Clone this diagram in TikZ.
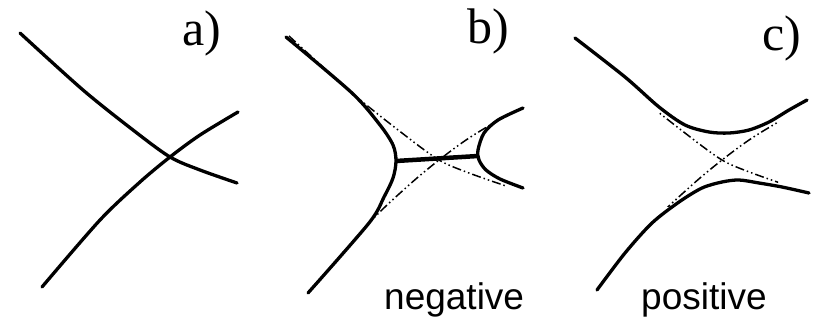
\documentclass[tikz,border=0pt]{standalone}
\usepackage{fontspec}
\setmainfont{Liberation Serif}
\newfontfamily\labelsans{Liberation Sans}
\usetikzlibrary{positioning}

\tikzset{
  branch/.style={line width=3.3pt, line cap=round, line join=round},
  asym/.style={line width=1.5pt, dash pattern=on 9pt off 3pt on 1.5pt off 3pt on 1.5pt off 3pt},
  bar/.style={line width=4.5pt},
  tag/.style={anchor=base west, inner sep=0pt, font=\fontsize{50}{50}\selectfont},
  sign/.style={anchor=base west, inner sep=0pt, font=\labelsans\fontsize{37}{37}\selectfont}
}
\newcommand{\crossA}{plot[smooth] coordinates {(20,33) (83,90) (133,130) (170,157) (200,170) (237,183)}}
\newcommand{\crossB}{plot[smooth] coordinates {(42,287) (100,220) (140,182) (170,157) (200,135) (238,112)}}

\begin{document}
\begin{tikzpicture}[x=1pt, y=-1pt]
\useasboundingbox (0,0) rectangle (813,322);
% a) plain crossing
\draw[branch] \crossA;
\draw[branch] \crossB;
\node[tag] (taga) at (182,45) {a)};
% b) negative
\draw[asym, shift={(269,3)}] \crossA;
\draw[asym, shift={(269,3)}] \crossB;
\draw[branch] plot[smooth] coordinates {(286,37) (352,93) (380,125) (393,145) (396,161) (393,178) (384,197) (369,223) (308,293)};
\draw[branch] plot[smooth] coordinates {(523,108) (498,120) (484,133) (478,150) (479,160) (486,170) (500,179) (523,188)};
\coordinate (vl) at (396,161);
\coordinate (vr) at (478,156);
\draw[bar] (vl) -- (vr);
\node[tag] (tagb) at (467,43) {b)};
\node[sign] (neg) at (384,309) {negative};
% c) positive
\begin{scope}
  \clip (658,100) rectangle (778,206);
  \draw[asym, shift={(552,3)}] \crossA;
  \draw[asym, shift={(552,3)}] \crossB;
\end{scope}
\draw[branch] plot[smooth] coordinates {(575,38) (625,77) (659,107) (685,125) (709,132) (729,133) (749,130) (769,122) (789,110) (807,100)};
\draw[branch] plot[smooth] coordinates {(597,290) (625,253) (652,223) (679,202) (702,188) (722,182) (739,180) (759,183) (782,187) (809,193)};
\node[tag] (tagc) at (762,50) {c)};
\node[sign] (pos) at (641,309) {positive};
\end{tikzpicture}
\end{document}
